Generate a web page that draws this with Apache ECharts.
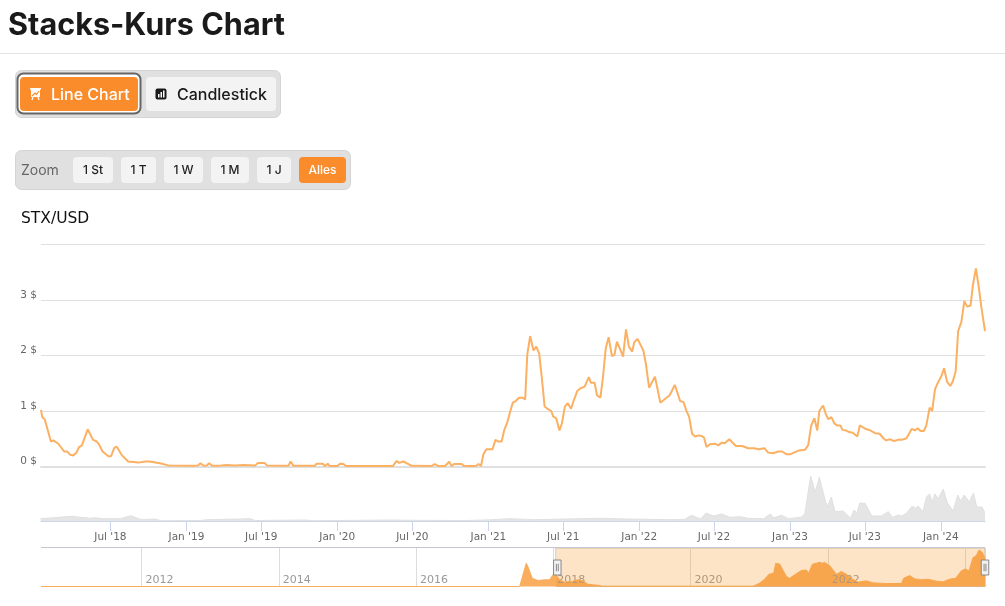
<!DOCTYPE html>
<html><head><meta charset="utf-8">
<style>html,body{margin:0;padding:0;background:#fff}#c{width:1005px;height:606px}</style>
<script src="https://cdn.jsdelivr.net/npm/echarts@6/dist/echarts.min.js"></script>
</head><body><div id="c"></div>
<script>
const priceDates = [
'2018-01-14','2018-01-17','2018-01-23','2018-02-07','2018-02-13','2018-02-25','2018-03-11','2018-03-18','2018-03-26','2018-04-02','2018-04-10','2018-04-16','2018-04-23','2018-05-07','2018-05-20','2018-05-29','2018-06-04','2018-06-12','2018-06-27','2018-07-03','2018-07-10','2018-07-16','2018-07-28','2018-08-13','2018-09-07','2018-09-23','2018-10-03','2018-10-29','2018-11-18',
'2019-01-17','2019-01-29','2019-02-04','2019-02-12','2019-02-19','2019-02-25','2019-03-05','2019-03-27','2019-04-08','2019-04-29','2019-05-20','2019-06-17','2019-06-23','2019-07-09','2019-07-15','2019-09-05','2019-09-10','2019-09-17','2019-11-08','2019-11-12','2019-11-27','2019-12-02','2019-12-09','2019-12-14',
'2020-01-01','2020-01-08','2020-01-16','2020-01-22','2020-05-15','2020-05-24','2020-05-30','2020-06-09','2020-06-18','2020-06-29','2020-08-17','2020-08-24','2020-09-01','2020-09-18','2020-09-28','2020-10-04','2020-10-10','2020-10-28','2020-11-03','2020-12-02','2020-12-08','2020-12-14','2020-12-20','2020-12-27',
'2021-01-11','2021-01-18','2021-01-25','2021-02-02','2021-02-08','2021-02-15','2021-02-22','2021-03-01','2021-03-08','2021-03-16','2021-03-24','2021-03-31','2021-04-05','2021-04-12','2021-04-20','2021-04-27','2021-05-04','2021-05-10','2021-05-17','2021-05-24','2021-06-02','2021-06-07','2021-06-14','2021-06-22','2021-06-28','2021-07-05','2021-07-12','2021-07-20','2021-07-28','2021-08-04','2021-08-12','2021-08-22','2021-09-01','2021-09-06','2021-09-15','2021-09-21','2021-09-29','2021-10-05','2021-10-12','2021-10-19','2021-10-27','2021-11-02','2021-11-08','2021-11-15','2021-11-23','2021-11-30','2021-12-07','2021-12-15','2021-12-20','2021-12-28',
'2022-01-11','2022-01-17','2022-01-25','2022-02-08','2022-02-14','2022-02-21','2022-03-15','2022-03-21','2022-03-28','2022-04-04','2022-04-10','2022-04-18','2022-04-25','2022-05-02','2022-05-09','2022-05-16','2022-05-24','2022-06-01','2022-06-07','2022-06-13','2022-06-21','2022-07-04','2022-07-11','2022-07-20','2022-07-27','2022-08-07','2022-08-23','2022-09-07','2022-09-22','2022-10-06','2022-10-17','2022-10-31','2022-11-09','2022-11-21','2022-12-04','2022-12-13','2022-12-24',
'2023-01-01','2023-01-13','2023-01-23','2023-02-06','2023-02-14','2023-02-21','2023-03-01','2023-03-08','2023-03-13','2023-03-22','2023-03-29','2023-04-04','2023-04-11','2023-04-19','2023-04-25','2023-05-03','2023-05-08','2023-05-16','2023-05-24','2023-06-02','2023-06-13','2023-06-19','2023-07-02','2023-07-14','2023-07-26','2023-08-06','2023-08-16','2023-08-22','2023-08-31','2023-09-10','2023-09-19','2023-09-28','2023-10-02','2023-10-10','2023-10-23','2023-10-30','2023-11-06','2023-11-13','2023-11-21','2023-11-27','2023-12-05','2023-12-11','2023-12-18','2023-12-25',
'2024-01-02','2024-01-09','2024-01-16','2024-01-24','2024-01-30','2024-02-06','2024-02-12','2024-02-20','2024-02-27','2024-03-05','2024-03-13','2024-03-19','2024-03-26','2024-04-02','2024-04-08','2024-04-17'];
const prices = [
1.02,0.89,0.85,0.45,0.47,0.41,0.27,0.27,0.21,0.20,0.25,0.35,0.38,0.67,0.48,0.45,0.39,0.27,0.18,0.19,0.33,0.36,0.21,0.09,0.07,0.09,0.09,0.06,0.02,
0.012,0.02,0.06,0.012,0.02,0.06,0.012,0.02,0.025,0.02,0.025,0.02,0.065,0.065,0.02,0.012,0.09,0.012,0.012,0.05,0.05,0.01,0.05,0.01,
0.01,0.05,0.045,0.01,0.01,0.1,0.065,0.09,0.055,0.012,0.01,0.045,0.01,0.01,0.085,0.01,0.045,0.045,0.01,0.01,0.045,0.01,0.22,0.31,
0.31,0.48,0.45,0.45,0.65,0.78,0.97,1.15,1.18,1.24,1.24,1.21,2.01,2.35,2.09,2.16,2.03,1.62,1.08,1.04,1.0,0.9,0.87,0.65,0.78,1.08,1.14,1.04,1.22,1.36,1.41,1.44,1.61,1.51,1.51,1.28,1.24,1.59,2.13,2.33,1.99,2.01,2.25,2.13,1.98,2.47,2.16,2.07,2.24,2.30,
2.09,1.86,1.42,1.62,1.41,1.15,1.28,1.36,1.47,1.32,1.18,1.16,1.01,0.89,0.59,0.54,0.56,0.55,0.52,0.35,0.40,0.41,0.38,0.43,0.42,0.49,0.37,0.37,0.33,0.33,0.31,0.33,0.25,0.24,0.27,0.27,0.22,
0.22,0.26,0.29,0.30,0.38,0.73,0.87,0.65,1.0,1.10,0.94,0.85,0.89,0.77,0.74,0.74,0.66,0.65,0.62,0.61,0.54,0.74,0.68,0.65,0.60,0.59,0.50,0.47,0.49,0.46,0.48,0.48,0.51,0.51,0.68,0.65,0.69,0.64,0.64,0.74,1.06,1.0,1.39,1.51,
1.62,1.77,1.53,1.45,1.53,1.71,2.44,2.61,2.98,2.88,2.9,3.28,3.57,3.23,2.88,2.44];
const volumeDates = ['2018-01-13','2018-03-30','2018-05-12','2018-05-24','2018-06-13','2018-07-25','2018-08-19','2018-09-14','2018-10-15','2018-11-02','2019-02-03','2019-02-19','2019-05-11','2019-06-04','2019-06-17','2019-10-18','2019-11-04','2020-05-15','2020-06-25','2020-11-08','2021-01-12','2021-02-22','2021-04-20','2021-09-29','2021-12-02','2022-03-24','2022-04-21','2022-05-08','2022-05-29','2022-06-12','2022-06-30','2022-07-20','2022-08-08','2022-09-02','2022-09-22','2022-10-29','2022-11-14','2022-11-23','2022-12-12','2022-12-28','2023-01-30','2023-02-06','2023-02-20','2023-03-03','2023-03-13','2023-03-27','2023-04-01','2023-04-11','2023-04-20','2023-05-10','2023-05-28','2023-06-05','2023-06-12','2023-06-19','2023-07-02','2023-07-18','2023-08-10','2023-08-27','2023-09-06','2023-09-20','2023-09-28','2023-10-10','2023-10-24','2023-11-01','2023-11-07','2023-11-19','2023-11-27','2023-12-05','2023-12-11','2023-12-18','2023-12-25','2024-01-07','2024-01-17','2024-01-31','2024-02-11','2024-02-18','2024-02-27','2024-03-10','2024-03-20','2024-03-28','2024-04-10','2024-04-17'];
const volumes = [23,47,27,33,23,23,53,13,20,3,5,13,20,23,5,10,3,10,7,5,13,23,13,27,20,13,17,57,20,80,50,70,37,43,27,23,70,33,57,23,40,77,450,290,437,210,140,240,93,100,27,110,80,180,177,50,50,93,37,60,50,77,150,127,150,93,240,270,190,270,220,320,180,100,260,200,260,190,280,140,140,80];
const navDates = ['2010-07-15','2017-07-06','2017-08-10','2017-08-19','2017-09-11','2017-10-11','2017-11-16','2017-12-12','2017-12-30','2018-01-17','2018-02-04','2018-03-02','2018-04-07','2018-05-12','2018-06-08','2018-07-04','2018-07-31','2018-08-25','2018-09-20','2020-11-29','2020-12-08','2021-01-03','2021-01-30','2021-02-22','2021-03-19','2021-03-30','2021-04-20','2021-05-07','2021-05-26','2021-06-12','2021-07-09','2021-08-13','2021-09-09','2021-09-21','2021-10-11','2021-11-01','2021-11-19','2021-12-03','2021-12-15','2021-12-30','2022-01-11','2022-01-29','2022-02-16','2022-03-14','2022-04-10','2022-05-07','2022-06-11','2022-07-25','2022-08-30','2022-11-09','2023-01-28','2023-02-09','2023-03-13','2023-04-09','2023-05-14','2023-06-18','2023-08-02','2023-09-06','2023-10-12','2023-11-13','2023-12-13','2024-01-03','2024-01-23','2024-02-13','2024-03-02','2024-03-16','2024-04-03','2024-04-17'];
const navPrices = [0,0,2.26,1.94,0.8,0.58,0.65,0.65,1.13,1.06,0.65,0.42,0.48,0.65,0.55,0.22,0.16,0.13,0.03,0.03,0.06,0.32,0.71,1.19,1.29,2.26,2.19,1.61,0.97,0.8,1.13,1.55,1.61,1.29,2.16,2.26,2.35,2.26,2.35,2.16,2.03,1.61,1.19,1.45,1.19,0.8,0.42,0.55,0.35,0.29,0.29,0.8,1.06,0.74,0.65,0.71,0.52,0.45,0.71,0.8,1.52,1.71,1.52,2.8,3.0,3.55,3.32,2.74];
const monthTicks = ['2018-07-01','2019-01-01','2019-07-01','2020-01-01','2020-07-01','2021-01-01','2021-07-01','2022-01-01','2022-07-01','2023-01-01','2023-07-01','2024-01-01'];
const yearTicks = ['2012-01-01','2014-01-01','2016-01-01','2018-01-01','2020-01-01','2022-01-01','2024-01-01'];
const yearLabels = ['2012-01-01','2014-01-01','2016-01-01','2018-01-01','2020-01-01','2022-01-01'];
const rangeButtons = ['1 St','1 T','1 W','1 M','1 J','Alles'];

const T = s => Date.parse(s);
const AX = 'DejaVu Sans';
const LINE = '#fbb062', AREA = '#f9ad5e', ORANGE = '#fb8c2c';
const tf = v => {
  const d = new Date(v), m = d.getUTCMonth();
  return (m === 0 ? 'Jan' : 'Jul') + " '" + String(d.getUTCFullYear()).slice(2);
};
const rect = (x,y,w,h,fill,r,stroke,lw) => ({type:'rect',shape:{x,y,width:w,height:h,r:r||0},style:{fill,stroke:stroke||null,lineWidth:lw||0},silent:true});
const text = (x,y,t,font,fill,align) => ({type:'text',x,y,style:{text:t,font,fill,textAlign:align||'center',textVerticalAlign:'middle'},silent:true});
const rangeX = [[73,40],[121,35],[164,39],[211,38],[257,34],[299,47]];
const graphic = [
  text(8,25.5,'Stacks-Kurs Chart','700 30.6px Inter','#1a1a1a','left'),
  {type:'line',shape:{x1:0,y1:53.5,x2:1005,y2:53.5},style:{stroke:'#e3e3e3',lineWidth:1},silent:true},
  rect(15.5,70.5,265,47,'#e0e0e0',6,'#d4d4d4',1),
  rect(17.5,73.5,123,40,'#ffffff',6,'#666666',2),
  rect(20,77,118,34,ORANGE,4),
  rect(146,77,130,34,'#f3f3f3',4),
  rect(30,88,11,1.6,'#fff'),
  {type:'polygon',shape:{points:[[31,89],[40,89],[40,97],[31,97]]},style:{fill:'#fff'},silent:true},
  {type:'polyline',shape:{points:[[32,96],[35,93],[36.5,94.5],[39,91]]},style:{stroke:ORANGE,lineWidth:1.2,fill:null},silent:true},
  {type:'line',shape:{x1:33,y1:97,x2:32,y2:100},style:{stroke:'#fff',lineWidth:1.2},silent:true},
  {type:'line',shape:{x1:38,y1:97,x2:39,y2:100},style:{stroke:'#fff',lineWidth:1.2},silent:true},
  rect(155.5,88.5,11,11,'#1a1a1a',2),
  rect(158,94,1.5,3.5,'#fff'),rect(160.5,92,1.5,5.5,'#fff'),rect(163,90.5,1.5,7,'#fff'),
  text(51,95,'Line Chart','500 16px Inter','#fff','left'),
  text(177,95,'Candlestick','500 16px Inter','#1a1a1a','left'),
  rect(15.5,150.5,335,39,'#e0e0e0',6,'#d4d4d4',1),
  text(21,171,'Zoom','14px Inter','#666','left'),
  ...rangeButtons.map((b,i)=>rect(rangeX[i][0],157,rangeX[i][1],26,i===5?ORANGE:'#f3f3f3',4)),
  ...rangeButtons.map((b,i)=>text(rangeX[i][0]+rangeX[i][1]/2,170,b,'500 12px Inter',i===5?'#fff':'#222')),
  text(21,219,'STX/USD','15.5px "DejaVu Sans"','#111','left'),
  {type:'line',z:1,shape:{x1:41,y1:547.5,x2:985,y2:547.5},style:{stroke:'#c4c8ce',lineWidth:1},silent:true}
];
const zip = (a,b) => a.map((d,i)=>[T(d),b[i]]);
const navMin = T('2010-07-15'), xMin = T('2010-07-20'), xMax = T('2024-04-17'), winStart = T('2018-01-14');
const chart = echarts.init(document.getElementById('c'), null, {renderer:'canvas'});
chart.setOption({
  animation:false,
  backgroundColor:'#fff',
  graphic,
  grid:[
    {left:41,width:944,top:244.5,height:222},
    {left:41,width:944,top:466,height:55},
    {left:41,width:944,top:548,height:38.5}
  ],
  xAxis:[
    {type:'value',gridIndex:0,min:xMin,max:xMax,
      axisLine:{show:true,onZero:false,lineStyle:{color:'#e0e0e0',width:2}},axisTick:{show:false},axisLabel:{show:false},splitLine:{show:false}},
    {type:'value',gridIndex:1,min:xMin,max:xMax,
      axisLine:{show:true,lineStyle:{color:'#ccd6eb',width:1}},
      axisTick:{show:true,length:10,customValues:monthTicks.map(T),lineStyle:{color:'#ccd6eb'}},
      axisLabel:{show:true,customValues:monthTicks.map(T),formatter:tf,color:'#666',fontFamily:AX,fontSize:10.5,margin:11,hideOverlap:false},
      splitLine:{show:false}},
    {type:'value',gridIndex:2,min:navMin,max:xMax,z:3,
      axisLine:{show:false},
      axisTick:{show:false,customValues:yearTicks.map(T)},
      axisLabel:{show:true,inside:true,customValues:yearLabels.map(T),align:'left',padding:[0,0,0,4],
        formatter:v=>String(new Date(v).getUTCFullYear()),color:'#999',fontFamily:AX,fontSize:11,margin:1,hideOverlap:false},
      splitLine:{show:true,lineStyle:{color:'#dcdcdc',width:1}}}
  ],
  yAxis:[
    {type:'value',gridIndex:0,min:0,max:4,interval:1,
      axisLine:{show:false},axisTick:{show:false},
      axisLabel:{formatter:v=>v===4?'':v+' $',color:'#666',fontFamily:AX,fontSize:10.5,margin:4,verticalAlign:'bottom',lineHeight:10},
      splitLine:{show:true,lineStyle:{color:'#e0e0e0',width:1}}},
    {type:'value',gridIndex:1,min:0,max:550,show:false,splitLine:{show:false}},
    {type:'value',gridIndex:2,min:0,max:3.74,show:false,splitLine:{show:false}}
  ],
  dataZoom:[{
    type:'slider',xAxisIndex:[0,1],filterMode:'none',
    startValue:winStart,endValue:xMax,
    left:41,width:944,top:548,height:39,
    showDetail:false,showDataShadow:false,brushSelect:false,moveHandleSize:0,
    backgroundColor:'rgba(0,0,0,0)',borderColor:'rgba(0,0,0,0)',
    fillerColor:'rgba(247,147,26,0.25)',
    handleIcon:'path://M0 0H8V16H0Z M3 4V12 M5 4V12',
    handleSize:15,
    handleStyle:{color:'#f2f2f2',borderColor:'#888',borderWidth:1}
  }],
  series:[
    {type:'line',name:'STX/USD',xAxisIndex:0,yAxisIndex:0,data:zip(priceDates,prices),showSymbol:false,
      lineStyle:{color:LINE,width:2},itemStyle:{color:LINE},smooth:false},
    {type:'line',name:'Volume',xAxisIndex:1,yAxisIndex:1,data:zip(volumeDates,volumes),showSymbol:false,
      lineStyle:{color:'#e0e0e0',width:1},itemStyle:{color:'#e0e0e0'},areaStyle:{color:'#e5e5e5',opacity:1}},
    {type:'line',name:'Navigator',xAxisIndex:2,yAxisIndex:2,data:zip(navDates,navPrices),showSymbol:false,
      lineStyle:{color:AREA,width:1},itemStyle:{color:AREA},areaStyle:{color:AREA,opacity:1},
      markArea:{silent:true,itemStyle:{color:'rgba(0,0,0,0)',borderColor:'#c3cad6',borderWidth:1},
        data:[[{xAxis:winStart,yAxis:0},{xAxis:xMax,yAxis:3.74}]]}}
  ]
});
</script></body></html>
